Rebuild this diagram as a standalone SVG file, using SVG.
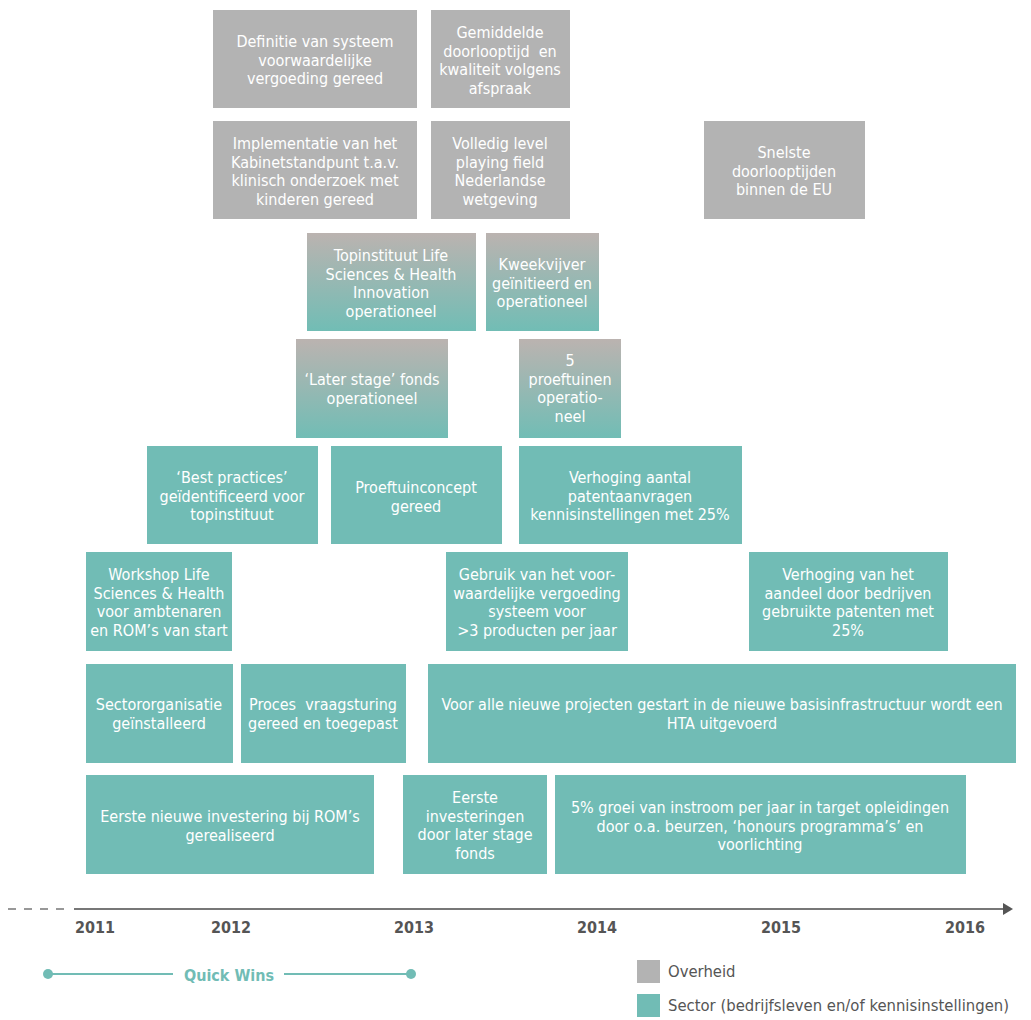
<svg xmlns="http://www.w3.org/2000/svg" width="1031" height="1020" viewBox="0 0 1031 1020">
<defs>
<linearGradient id="grad" x1="0" y1="0" x2="0" y2="1">
<stop offset="0" stop-color="#bbb3b0"/>
<stop offset="1" stop-color="#71bdb5"/>
</linearGradient>
<marker id="arrow" markerWidth="10" markerHeight="12" refX="0" refY="6" orient="auto" markerUnits="userSpaceOnUse">
<path d="M0,0 L10,6 L0,12 Z" fill="#555"/>
</marker>
</defs>
<style>
.gov{fill:#b3b3b3}
.sec{fill:#71bcb5}
.grd{fill:url(#grad)}
.t{font-family:"Liberation Sans Narrow","DejaVu Sans Condensed","Liberation Sans",Arial,sans-serif;font-stretch:condensed;font-size:16px;fill:#fff;text-anchor:middle}
.pre{white-space:pre}
.yr{font-family:"Liberation Sans Narrow","DejaVu Sans Condensed","Liberation Sans",Arial,sans-serif;font-stretch:condensed;font-size:16px;fill:#555;font-weight:bold;text-anchor:middle}
.lg{font-family:"Liberation Sans Narrow","DejaVu Sans Condensed","Liberation Sans",Arial,sans-serif;font-stretch:condensed;font-size:16.5px;fill:#555}
.qw{font-family:"Liberation Sans Narrow","DejaVu Sans Condensed","Liberation Sans",Arial,sans-serif;font-stretch:condensed;font-size:16px;fill:#71bcb5;font-weight:bold;text-anchor:middle}
</style>
<rect width="1031" height="1020" fill="#fff"/>

<g id="n1"><rect class="gov" x="213" y="10" width="204" height="98"/>
<text class="t" x="315" y="47"><tspan x="315">Definitie van systeem</tspan><tspan x="315" dy="18.5">voorwaardelijke</tspan><tspan x="315" dy="18.5">vergoeding gereed</tspan></text></g>
<g id="n2"><rect class="gov" x="431" y="10" width="139" height="98"/>
<text class="t pre" x="500" y="38"><tspan x="500">Gemiddelde</tspan><tspan x="500" dy="18.5">doorlooptijd  en</tspan><tspan x="500" dy="18.5">kwaliteit volgens</tspan><tspan x="500" dy="18.5">afspraak</tspan></text></g>
<g id="n3"><rect class="gov" x="213" y="121" width="204" height="98"/>
<text class="t" x="315" y="149"><tspan x="315">Implementatie van het</tspan><tspan x="315" dy="18.5">Kabinetstandpunt t.a.v.</tspan><tspan x="315" dy="18.5">klinisch onderzoek met</tspan><tspan x="315" dy="18.5">kinderen gereed</tspan></text></g>
<g id="n4"><rect class="gov" x="431" y="121" width="139" height="98"/>
<text class="t" x="500" y="149"><tspan x="500">Volledig level</tspan><tspan x="500" dy="18.5">playing field</tspan><tspan x="500" dy="18.5">Nederlandse</tspan><tspan x="500" dy="18.5">wetgeving</tspan></text></g>
<g id="n5"><rect class="gov" x="704" y="121" width="161" height="98"/>
<text class="t" x="784" y="158"><tspan x="784">Snelste</tspan><tspan x="784" dy="18.5">doorlooptijden</tspan><tspan x="784" dy="18.5">binnen de EU</tspan></text></g>

<g id="n6"><rect class="grd" x="307" y="233" width="169" height="98"/>
<text class="t" x="391" y="261"><tspan x="391">Topinstituut Life</tspan><tspan x="391" dy="18.5">Sciences &amp; Health</tspan><tspan x="391" dy="18.5">Innovation</tspan><tspan x="391" dy="18.5">operationeel</tspan></text></g>
<g id="n7"><rect class="grd" x="486" y="233" width="113" height="98"/>
<text class="t" x="542" y="270"><tspan x="542">Kweekvijver</tspan><tspan x="542" dy="18.5">geïnitieerd en</tspan><tspan x="542" dy="18.5">operationeel</tspan></text></g>
<g id="n8"><rect class="grd" x="296" y="339" width="152" height="99"/>
<text class="t" x="372" y="385"><tspan x="372">‘Later stage’ fonds</tspan><tspan x="372" dy="18.5">operationeel</tspan></text></g>
<g id="n9"><rect class="grd" x="519" y="339" width="102" height="99"/>
<text class="t" x="570" y="366"><tspan x="570">5</tspan><tspan x="570" dy="18.5">proeftuinen</tspan><tspan x="570" dy="18.5">operatio-</tspan><tspan x="570" dy="18.5">neel</tspan></text></g>

<g id="n10"><rect class="sec" x="147" y="446" width="171" height="98"/>
<text class="t" x="232" y="483"><tspan x="232">‘Best practices’</tspan><tspan x="232" dy="18.5">geïdentificeerd voor</tspan><tspan x="232" dy="18.5">topinstituut</tspan></text></g>
<g id="n11"><rect class="sec" x="331" y="446" width="171" height="98"/>
<text class="t" x="416" y="493"><tspan x="416">Proeftuinconcept</tspan><tspan x="416" dy="18.5">gereed</tspan></text></g>
<g id="n12"><rect class="sec" x="519" y="446" width="223" height="98"/>
<text class="t" x="630" y="483"><tspan x="630">Verhoging aantal</tspan><tspan x="630" dy="18.5">patentaanvragen</tspan><tspan x="630" dy="18.5">kennisinstellingen met 25%</tspan></text></g>

<g id="n13"><rect class="sec" x="86" y="552" width="146" height="99"/>
<text class="t" x="159" y="580"><tspan x="159">Workshop Life</tspan><tspan x="159" dy="18.5">Sciences &amp; Health</tspan><tspan x="159" dy="18.5">voor ambtenaren</tspan><tspan x="159" dy="18.5">en ROM’s van start</tspan></text></g>
<g id="n14"><rect class="sec" x="446" y="552" width="182" height="99"/>
<text class="t" x="537" y="580"><tspan x="537">Gebruik van het voor-</tspan><tspan x="537" dy="18.5">waardelijke vergoeding</tspan><tspan x="537" dy="18.5">systeem voor</tspan><tspan x="537" dy="18.5">&gt;3 producten per jaar</tspan></text></g>
<g id="n15"><rect class="sec" x="749" y="552" width="199" height="99"/>
<text class="t" x="848" y="580"><tspan x="848">Verhoging van het</tspan><tspan x="848" dy="18.5">aandeel door bedrijven</tspan><tspan x="848" dy="18.5">gebruikte patenten met</tspan><tspan x="848" dy="18.5">25%</tspan></text></g>

<g id="n16"><rect class="sec" x="86" y="664" width="147" height="99"/>
<text class="t" x="159" y="710"><tspan x="159">Sectororganisatie</tspan><tspan x="159" dy="18.5">geïnstalleerd</tspan></text></g>
<g id="n17"><rect class="sec" x="241" y="664" width="165" height="99"/>
<text class="t pre" x="323" y="710"><tspan x="323">Proces  vraagsturing</tspan><tspan x="323" dy="18.5">gereed en toegepast</tspan></text></g>
<g id="n18"><rect class="sec" x="428" y="664" width="588" height="99"/>
<text class="t" x="722" y="710"><tspan x="722">Voor alle nieuwe projecten gestart in de nieuwe basisinfrastructuur wordt een</tspan><tspan x="722" dy="18.5">HTA uitgevoerd</tspan></text></g>

<g id="n19"><rect class="sec" x="86" y="775" width="288" height="99"/>
<text class="t" x="230" y="822"><tspan x="230">Eerste nieuwe investering bij ROM’s</tspan><tspan x="230" dy="18.5">gerealiseerd</tspan></text></g>
<g id="n20"><rect class="sec" x="403" y="775" width="144" height="99"/>
<text class="t" x="475" y="803"><tspan x="475">Eerste</tspan><tspan x="475" dy="18.5">investeringen</tspan><tspan x="475" dy="18.5">door later stage</tspan><tspan x="475" dy="18.5">fonds</tspan></text></g>
<g id="n21"><rect class="sec" x="555" y="775" width="411" height="99"/>
<text class="t" x="760" y="813"><tspan x="760">5% groei van instroom per jaar in target opleidingen</tspan><tspan x="760" dy="18.5">door o.a. beurzen, ‘honours programma’s’ en</tspan><tspan x="760" dy="18.5">voorlichting</tspan></text></g>

<g id="connectors">
<line x1="8" y1="909" x2="70" y2="909" stroke="#777" stroke-width="1.5" stroke-dasharray="8,8"/>
<line x1="74" y1="909" x2="1003" y2="909" stroke="#777" stroke-width="2" marker-end="url(#arrow)"/>
<line x1="48" y1="974" x2="173" y2="974" stroke="#71bcb5" stroke-width="2"/>
<line x1="284" y1="974" x2="411" y2="974" stroke="#71bcb5" stroke-width="2"/>
<circle cx="48" cy="974" r="5" fill="#71bcb5"/>
<circle cx="411" cy="974" r="5" fill="#71bcb5"/>
</g>

<g id="axis-labels">
<text class="yr" x="95" y="933">2011</text>
<text class="yr" x="231" y="933">2012</text>
<text class="yr" x="414" y="933">2013</text>
<text class="yr" x="597" y="933">2014</text>
<text class="yr" x="781" y="933">2015</text>
<text class="yr" x="965" y="933">2016</text>
<text class="qw" x="229" y="981">Quick Wins</text>
</g>

<g id="legend">
<rect class="gov" x="637" y="960" width="23" height="23"/>
<text class="lg" x="668" y="977">Overheid</text>
<rect class="sec" x="637" y="994" width="23" height="23"/>
<text class="lg" x="668" y="1011">Sector (bedrijfsleven en/of kennisinstellingen)</text>
</g>
</svg>
